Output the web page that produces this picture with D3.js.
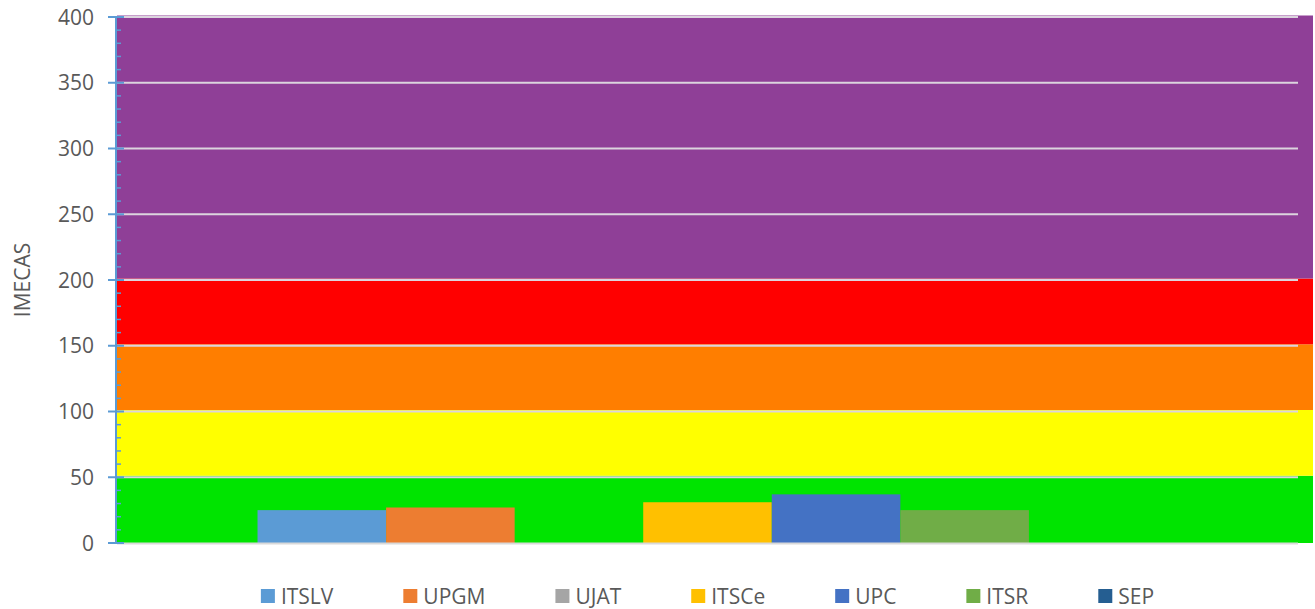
<!DOCTYPE html>
<html>
<head>
<meta charset="utf-8">
<script src="https://cdn.jsdelivr.net/npm/d3@7"></script>
<style>
  body { margin: 0; background: #fff; }
  text { font-family: "Open Sans", sans-serif; fill: #595959; }
</style>
</head>
<body>
<div id="chart"></div>
<script>
// data
const schools = ["ITSLV", "UPGM", "UJAT", "ITSCe", "UPC", "ITSR", "SEP"];
const imecas = [25, 27, 0, 31, 37, 25, 0];
const schoolColours = ["#5b9bd5", "#ed7d31", "#a5a5a5", "#ffc000", "#4472c4", "#70ad47", "#255e91"];

const bandFrom = [0, 50, 100, 150, 200];
const bandTo = [50, 100, 150, 200, 400];
const bandColours = ["#00e400", "#ffff00", "#ff7e00", "#ff0000", "#8f3f97"];

const yTicks = [0, 50, 100, 150, 200, 250, 300, 350, 400];

document.addEventListener("DOMContentLoaded", function () {
  const width = 1315;
  const height = 609;
  const left = 117, right = 1298, top = 17, bottom = 543;

  const svg = d3
    .select("#chart")
    .append("svg")
    .attr("width", width)
    .attr("height", height);

  const y = d3.scaleLinear().domain([0, 400]).range([bottom, top]);

  // one category, seven series side by side
  const x = d3
    .scaleBand()
    .domain(schools)
    .range([left, right])
    .paddingInner(0)
    .paddingOuter(1.093);

  // coloured IMECA bands (run a bit past the grid, like the original)
  svg
    .selectAll("rect.band")
    .data(bandFrom)
    .enter()
    .append("rect")
    .attr("class", "band")
    .attr("x", left)
    .attr("width", width - 2 - left)
    .attr("y", (d, i) => y(bandTo[i]) - 1.5)
    .attr("height", (d, i) => y(d) - y(bandTo[i]) + (i === 0 ? 1.5 : 0))
    .attr("fill", (d, i) => bandColours[i]);

  // gridlines
  svg
    .selectAll("line.grid")
    .data(yTicks.filter((d) => d > 0))
    .enter()
    .append("line")
    .attr("class", "grid")
    .attr("x1", left)
    .attr("x2", right)
    .attr("y1", (d) => y(d))
    .attr("y2", (d) => y(d))
    .attr("stroke", "#dcd4de")
    .attr("stroke-width", 2);

  // bars
  svg
    .selectAll("rect.bar")
    .data(imecas)
    .enter()
    .append("rect")
    .attr("class", "bar")
    .attr("x", (d, i) => x(schools[i]))
    .attr("width", x.bandwidth())
    .attr("y", (d) => y(d))
    .attr("height", (d) => y(0) - y(d))
    .attr("fill", (d, i) => schoolColours[i]);

  // category axis line
  svg
    .append("line")
    .attr("x1", left)
    .attr("x2", right)
    .attr("y1", bottom + 0.5)
    .attr("y2", bottom + 0.5)
    .attr("stroke", "#d9d9d9")
    .attr("stroke-width", 2);

  // value axis
  const axisX = 116;
  svg
    .append("line")
    .attr("x1", axisX)
    .attr("x2", axisX)
    .attr("y1", y(400))
    .attr("y2", y(0))
    .attr("stroke", "#5b9bd5")
    .attr("stroke-width", 2);

  const minor = d3.range(10, 400, 10).filter((d) => d % 50 !== 0);
  svg
    .selectAll("line.minor")
    .data(minor)
    .enter()
    .append("line")
    .attr("class", "minor")
    .attr("x1", axisX)
    .attr("x2", axisX + 5)
    .attr("y1", (d) => y(d))
    .attr("y2", (d) => y(d))
    .attr("stroke", "#5b9bd5")
    .attr("stroke-width", 1.5);

  svg
    .selectAll("line.major")
    .data(yTicks)
    .enter()
    .append("line")
    .attr("class", "major")
    .attr("x1", axisX - 8)
    .attr("x2", axisX + 8)
    .attr("y1", (d) => y(d))
    .attr("y2", (d) => y(d))
    .attr("stroke", "#5b9bd5")
    .attr("stroke-width", 2);

  svg
    .selectAll("text.tick")
    .data(yTicks)
    .enter()
    .append("text")
    .attr("class", "tick")
    .attr("x", 94)
    .attr("y", (d) => y(d))
    .attr("dy", "0.36em")
    .attr("text-anchor", "end")
    .style("font-size", "21px")
    .text((d) => d);

  svg
    .append("text")
    .attr("transform", "translate(30," + (top + bottom) / 2 + ") rotate(-90)")
    .attr("text-anchor", "middle")
    .style("font-size", "21px")
    .text("IMECAS");

  // legend, laid out from text widths and centred under the bars
  const legend = svg.append("g");
  const items = legend
    .selectAll("g")
    .data(schools)
    .enter()
    .append("g");

  items
    .append("rect")
    .attr("width", 14)
    .attr("height", 14)
    .attr("y", -7)
    .attr("fill", (d, i) => schoolColours[i]);

  items
    .append("text")
    .attr("x", 20)
    .attr("dy", "0.36em")
    .style("font-size", "21px")
    .text((d) => d);

  const gap = 70;
  let pos = 0;
  const offsets = [];
  items.each(function () {
    offsets.push(pos);
    const w = 20 + d3.select(this).select("text").node().getComputedTextLength();
    pos += w + gap;
  });
  const total = pos - gap;
  const cx = x(schools[0]) + (x.bandwidth() * schools.length) / 2;
  const startX = cx - total / 2;
  items.attr("transform", (d, i) => "translate(" + (startX + offsets[i]) + ",596)");
});
</script>
</body>
</html>
